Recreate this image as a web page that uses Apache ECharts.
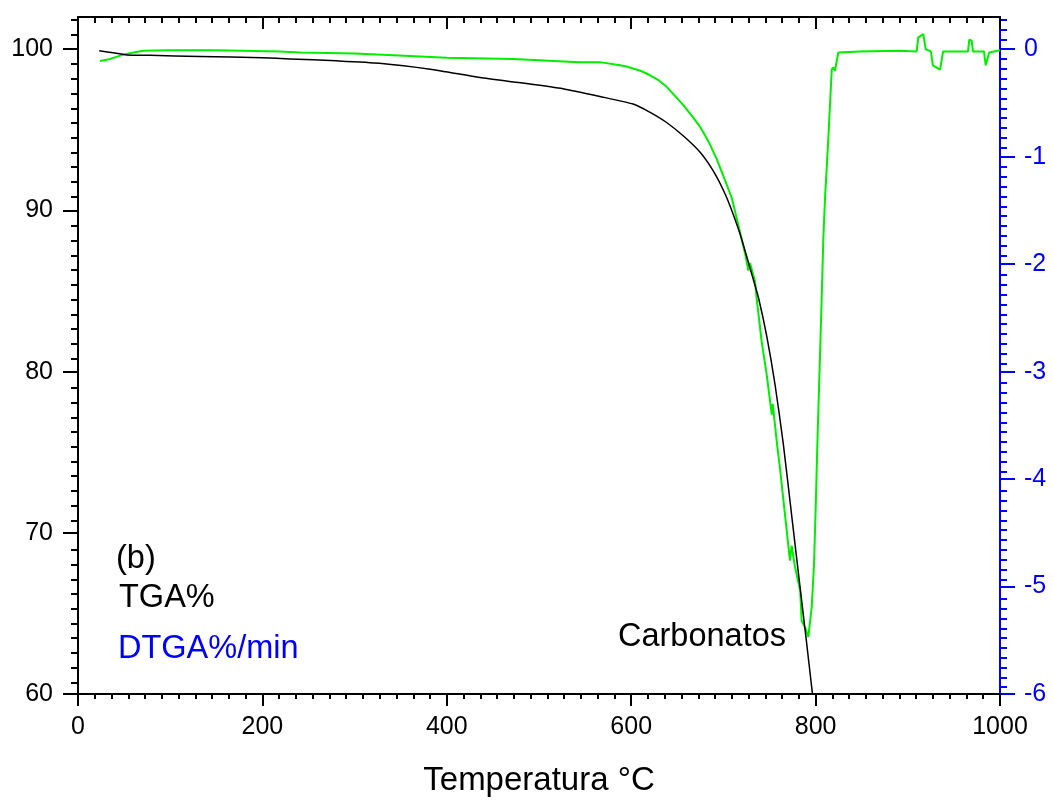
<!DOCTYPE html>
<html>
<head>
<meta charset="utf-8">
<script src="https://cdn.jsdelivr.net/npm/echarts@6/dist/echarts.min.js"></script>
<style>
html,body{margin:0;padding:0;background:#fff;}
#chart{width:1053px;height:802px;}
</style>
</head>
<body>
<div id="chart"></div>
<script>
// ---- Data ----
const tgaTemp = [23, 40, 53, 78, 132, 200, 230, 280, 327, 382, 436, 480, 526, 566, 602, 620, 638, 657, 675, 684, 693, 700, 705, 711, 718, 725, 731, 738, 747, 756, 765, 774, 783, 790, 797];
const tgaVal  = [99.9, 99.76, 99.65, 99.62, 99.55, 99.47, 99.4, 99.28, 99.13, 98.76, 98.25, 97.92, 97.55, 97.07, 96.6, 96.1, 95.47, 94.6, 93.6, 92.9, 92.05, 91.25, 90.6, 89.7, 88.55, 87.2, 86.0, 84.6, 82.2, 79.2, 75.5, 71.1, 66.7, 63.3, 59.8];

const dtgaTemp = [24, 35, 49, 60, 71, 96, 150, 219, 241, 300, 342, 400, 472, 544, 566, 588, 595, 610, 620, 630, 638.5, 647, 656.5, 665, 674.6, 684, 692.7, 700, 709, 718, 724, 727, 728.8, 734.3, 736.1, 741.5, 747, 751, 752.5, 753.5, 758.5, 761.4, 766.8, 772.2, 774, 777.7, 783.3, 784.9, 788.5, 792.1, 795.8, 798.3, 800.4, 801.8, 806.6, 808.4, 810.2, 813.8, 817.5, 819, 821, 824.6, 848, 891, 909.6, 911.4, 916.8, 919.4, 925, 927.2, 935, 936.9, 938.3, 965.3, 966.7, 969.3, 970.7, 982.6, 984.5, 986.2, 988.3, 1000];
const dtgaVal  = [-0.11, -0.09, -0.05, -0.03, -0.015, -0.01, -0.01, -0.02, -0.03, -0.04, -0.056, -0.08, -0.09, -0.12, -0.12, -0.15, -0.16, -0.2, -0.24, -0.29, -0.35, -0.43, -0.52, -0.61, -0.72, -0.86, -1.02, -1.18, -1.38, -1.70, -1.92, -2.06, -1.99, -2.16, -2.32, -2.72, -3.03, -3.30, -3.40, -3.30, -3.70, -3.90, -4.33, -4.76, -4.62, -4.82, -5.04, -5.32, -5.38, -5.47, -5.19, -4.79, -4.17, -3.71, -2.32, -1.76, -1.39, -0.83, -0.19, -0.17, -0.20, -0.03, -0.02, -0.015, -0.02, 0.11, 0.14, 0.0, -0.02, -0.15, -0.19, -0.18, -0.02, -0.02, 0.09, 0.08, -0.02, -0.02, -0.15, -0.14, -0.03, -0.01];

const xTicks = [0, 200, 400, 600, 800, 1000];
const leftTicks = [60, 70, 80, 90, 100];
const rightTicks = [-6, -5, -4, -3, -2, -1, 0];

const LEFT_MIN = 60, LEFT_MAX = 102;
const RIGHT_MIN = -6, RIGHT_MAX = 0.3;
const MINOR_DIV = 11;

function minorTicks(majors, step, max) {
  const out = [];
  majors.forEach(function (t) {
    for (let k = 1; k < MINOR_DIV; k++) {
      const v = +(t + k * step / MINOR_DIV).toFixed(6);
      if (v < max) out.push(v);
    }
  });
  return out;
}
const leftMinor = minorTicks(leftTicks, 10, LEFT_MAX);
const rightMinor = minorTicks(rightTicks, 1, RIGHT_MAX);

const tgaData = tgaTemp.map(function (t, i) { return [t, tgaVal[i]]; });
const dtgaData = dtgaTemp.map(function (t, i) { return [t, dtgaVal[i]]; });

const FONT = '"Liberation Sans", Arial, Helvetica, sans-serif';
const BLUE = '#0000ff';
const GREEN = '#00ee00';
const GRID = {left: 78, right: 53, top: 17, bottom: 105};
const plain = function (v) { return String(v); };

const chart = echarts.init(document.getElementById('chart'), null, {renderer: 'canvas'});
chart.setOption({
  animation: false,
  backgroundColor: '#ffffff',
  grid: [
    Object.assign({}, GRID),
    Object.assign({}, GRID)
  ],
  xAxis: [
    {
      gridIndex: 0, type: 'value', position: 'bottom', min: 0, max: 1000, interval: 200,
      axisLine: {show: true, onZero: false, lineStyle: {color: '#000', width: 2}},
      axisTick: {show: true, inside: false, length: 12, lineStyle: {color: '#000', width: 2}},
      minorTick: {show: true, splitNumber: MINOR_DIV, length: 5, lineStyle: {color: '#000', width: 2}},
      splitLine: {show: false}, minorSplitLine: {show: false},
      axisLabel: {fontSize: 25, color: '#000', margin: 21, fontFamily: FONT, formatter: plain},
      name: 'Temperatura °C', nameLocation: 'middle', nameGap: 70,
      nameTextStyle: {fontSize: 33, color: '#000', fontFamily: FONT}
    },
    {
      gridIndex: 1, type: 'value', position: 'top', min: 0, max: 1000, interval: 200,
      axisLine: {show: true, onZero: false, lineStyle: {color: '#000', width: 2}},
      axisTick: {show: true, inside: true, length: 12, lineStyle: {color: '#000', width: 2}},
      minorTick: {show: true, splitNumber: MINOR_DIV, length: 6, lineStyle: {color: '#000', width: 2}},
      splitLine: {show: false}, minorSplitLine: {show: false},
      axisLabel: {show: false}
    }
  ],
  yAxis: [
    {
      gridIndex: 0, type: 'value', position: 'left', min: LEFT_MIN, max: LEFT_MAX,
      axisLine: {show: true, onZero: false, lineStyle: {color: '#000', width: 2}},
      axisTick: {show: true, inside: false, length: 15, customValues: leftTicks, lineStyle: {color: '#000', width: 2}},
      axisLabel: {customValues: leftTicks, fontSize: 25, color: '#000', margin: 25, fontFamily: FONT, formatter: plain},
      splitLine: {show: false}
    },
    {
      gridIndex: 0, type: 'value', position: 'right', min: RIGHT_MIN, max: RIGHT_MAX,
      axisLine: {show: true, onZero: false, lineStyle: {color: BLUE, width: 2}},
      axisTick: {show: true, inside: false, length: 15, customValues: rightTicks, lineStyle: {color: BLUE, width: 2}},
      axisLabel: {customValues: rightTicks, fontSize: 25, color: BLUE, margin: 24, fontFamily: FONT, formatter: plain},
      splitLine: {show: false}
    },
    {
      gridIndex: 1, type: 'value', position: 'left', min: LEFT_MIN, max: LEFT_MAX,
      axisLine: {show: false},
      axisTick: {show: true, inside: false, length: 7, customValues: leftMinor, lineStyle: {color: '#000', width: 2}},
      axisLabel: {show: false},
      splitLine: {show: false}
    },
    {
      gridIndex: 1, type: 'value', position: 'right', min: RIGHT_MIN, max: RIGHT_MAX,
      axisLine: {show: false},
      axisTick: {show: true, inside: false, length: 7, customValues: rightMinor, lineStyle: {color: BLUE, width: 2}},
      axisLabel: {show: false},
      splitLine: {show: false}
    }
  ],
  series: [
    {
      name: 'DTGA%/min', type: 'line', xAxisIndex: 0, yAxisIndex: 1,
      data: dtgaData, showSymbol: false, symbol: 'none', clip: true,
      lineStyle: {color: GREEN, width: 2}, z: 2
    },
    {
      name: 'TGA%', type: 'line', xAxisIndex: 0, yAxisIndex: 0,
      data: tgaData, showSymbol: false, symbol: 'none', clip: true,
      smooth: 0.2,
      lineStyle: {color: '#000', width: 1.5}, z: 3
    }
  ],
  graphic: [
    {type: 'text', left: 116, top: 543, style: {text: '(b)', font: '32.5px ' + FONT, fill: '#000'}},
    {type: 'text', left: 119, top: 582, style: {text: 'TGA%', font: '32.5px ' + FONT, fill: '#000'}},
    {type: 'text', left: 118, top: 633, style: {text: 'DTGA%/min', font: '32.5px ' + FONT, fill: BLUE}},
    {type: 'text', left: 618, top: 621, style: {text: 'Carbonatos', font: '32.5px ' + FONT, fill: '#000'}}
  ]
});
</script>
</body>
</html>
